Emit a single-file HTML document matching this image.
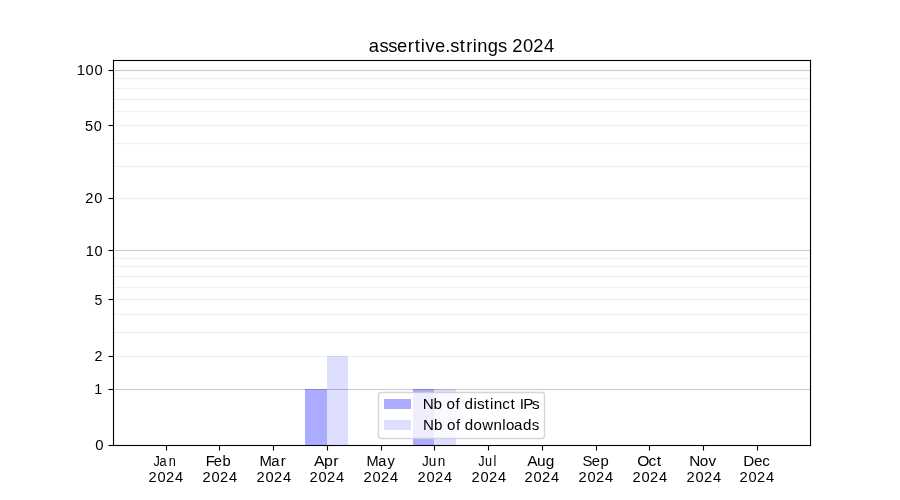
<!DOCTYPE html>
<html><head><meta charset="utf-8"><title>assertive.strings 2024</title>
<style>
html,body{margin:0;padding:0;background:#fff;width:900px;height:500px;overflow:hidden}
svg{display:block;will-change:transform}
text{font-family:"Liberation Sans",sans-serif;fill:#000}
rect{shape-rendering:crispEdges}
</style></head><body>
<svg width="900" height="500" viewBox="0 0 900 500">
<rect x="0" y="0" width="900" height="500" fill="#fff"/>
<rect x="305" y="389" width="22" height="56" fill="#ababff"/>
<rect x="327" y="356" width="21" height="89" fill="#dedeff"/>
<rect x="413" y="389" width="21" height="56" fill="#ababff"/>
<rect x="434" y="389" width="22" height="56" fill="#dedeff"/>
<rect x="114" y="70" width="696" height="1" fill="#000" fill-opacity="0.2"/>
<rect x="114" y="69" width="696" height="1" fill="#000" fill-opacity="0.012"/>
<rect x="114" y="71" width="696" height="1" fill="#000" fill-opacity="0.012"/>
<rect x="114" y="250" width="696" height="1" fill="#000" fill-opacity="0.2"/>
<rect x="114" y="249" width="696" height="1" fill="#000" fill-opacity="0.012"/>
<rect x="114" y="251" width="696" height="1" fill="#000" fill-opacity="0.012"/>
<rect x="114" y="389" width="696" height="1" fill="#000" fill-opacity="0.2"/>
<rect x="114" y="388" width="696" height="1" fill="#000" fill-opacity="0.012"/>
<rect x="114" y="390" width="696" height="1" fill="#000" fill-opacity="0.012"/>
<rect x="114" y="78" width="696" height="1" fill="#000" fill-opacity="0.059"/>
<rect x="114" y="77" width="696" height="1" fill="#000" fill-opacity="0.004"/>
<rect x="114" y="79" width="696" height="1" fill="#000" fill-opacity="0.004"/>
<rect x="114" y="88" width="696" height="1" fill="#000" fill-opacity="0.059"/>
<rect x="114" y="87" width="696" height="1" fill="#000" fill-opacity="0.004"/>
<rect x="114" y="89" width="696" height="1" fill="#000" fill-opacity="0.004"/>
<rect x="114" y="99" width="696" height="1" fill="#000" fill-opacity="0.059"/>
<rect x="114" y="98" width="696" height="1" fill="#000" fill-opacity="0.004"/>
<rect x="114" y="100" width="696" height="1" fill="#000" fill-opacity="0.004"/>
<rect x="114" y="111" width="696" height="1" fill="#000" fill-opacity="0.059"/>
<rect x="114" y="110" width="696" height="1" fill="#000" fill-opacity="0.004"/>
<rect x="114" y="112" width="696" height="1" fill="#000" fill-opacity="0.004"/>
<rect x="114" y="125" width="696" height="1" fill="#000" fill-opacity="0.059"/>
<rect x="114" y="124" width="696" height="1" fill="#000" fill-opacity="0.004"/>
<rect x="114" y="126" width="696" height="1" fill="#000" fill-opacity="0.004"/>
<rect x="114" y="143" width="696" height="1" fill="#000" fill-opacity="0.059"/>
<rect x="114" y="142" width="696" height="1" fill="#000" fill-opacity="0.004"/>
<rect x="114" y="144" width="696" height="1" fill="#000" fill-opacity="0.004"/>
<rect x="114" y="166" width="696" height="1" fill="#000" fill-opacity="0.059"/>
<rect x="114" y="165" width="696" height="1" fill="#000" fill-opacity="0.004"/>
<rect x="114" y="167" width="696" height="1" fill="#000" fill-opacity="0.004"/>
<rect x="114" y="198" width="696" height="1" fill="#000" fill-opacity="0.059"/>
<rect x="114" y="197" width="696" height="1" fill="#000" fill-opacity="0.004"/>
<rect x="114" y="199" width="696" height="1" fill="#000" fill-opacity="0.004"/>
<rect x="114" y="258" width="696" height="1" fill="#000" fill-opacity="0.059"/>
<rect x="114" y="257" width="696" height="1" fill="#000" fill-opacity="0.004"/>
<rect x="114" y="259" width="696" height="1" fill="#000" fill-opacity="0.004"/>
<rect x="114" y="266" width="696" height="1" fill="#000" fill-opacity="0.059"/>
<rect x="114" y="265" width="696" height="1" fill="#000" fill-opacity="0.004"/>
<rect x="114" y="267" width="696" height="1" fill="#000" fill-opacity="0.004"/>
<rect x="114" y="276" width="696" height="1" fill="#000" fill-opacity="0.059"/>
<rect x="114" y="275" width="696" height="1" fill="#000" fill-opacity="0.004"/>
<rect x="114" y="277" width="696" height="1" fill="#000" fill-opacity="0.004"/>
<rect x="114" y="287" width="696" height="1" fill="#000" fill-opacity="0.059"/>
<rect x="114" y="286" width="696" height="1" fill="#000" fill-opacity="0.004"/>
<rect x="114" y="288" width="696" height="1" fill="#000" fill-opacity="0.004"/>
<rect x="114" y="299" width="696" height="1" fill="#000" fill-opacity="0.059"/>
<rect x="114" y="298" width="696" height="1" fill="#000" fill-opacity="0.004"/>
<rect x="114" y="300" width="696" height="1" fill="#000" fill-opacity="0.004"/>
<rect x="114" y="314" width="696" height="1" fill="#000" fill-opacity="0.059"/>
<rect x="114" y="313" width="696" height="1" fill="#000" fill-opacity="0.004"/>
<rect x="114" y="315" width="696" height="1" fill="#000" fill-opacity="0.004"/>
<rect x="114" y="332" width="696" height="1" fill="#000" fill-opacity="0.059"/>
<rect x="114" y="331" width="696" height="1" fill="#000" fill-opacity="0.004"/>
<rect x="114" y="333" width="696" height="1" fill="#000" fill-opacity="0.004"/>
<rect x="114" y="356" width="696" height="1" fill="#000" fill-opacity="0.059"/>
<rect x="114" y="355" width="696" height="1" fill="#000" fill-opacity="0.004"/>
<rect x="114" y="357" width="696" height="1" fill="#000" fill-opacity="0.004"/>
<rect x="113" y="60" width="1" height="386" fill="#000"/>
<rect x="112" y="60" width="1" height="386" fill="#000" fill-opacity="0.055"/>
<rect x="114" y="60" width="1" height="386" fill="#000" fill-opacity="0.055"/>
<rect x="113" y="59" width="1" height="1" fill="#000" fill-opacity="0.055"/>
<rect x="113" y="446" width="1" height="1" fill="#000" fill-opacity="0.055"/>
<rect x="112" y="59" width="1" height="1" fill="#000" fill-opacity="0.008"/>
<rect x="112" y="446" width="1" height="1" fill="#000" fill-opacity="0.008"/>
<rect x="114" y="59" width="1" height="1" fill="#000" fill-opacity="0.008"/>
<rect x="114" y="446" width="1" height="1" fill="#000" fill-opacity="0.008"/>
<rect x="810" y="60" width="1" height="386" fill="#000"/>
<rect x="809" y="60" width="1" height="386" fill="#000" fill-opacity="0.055"/>
<rect x="811" y="60" width="1" height="386" fill="#000" fill-opacity="0.055"/>
<rect x="810" y="59" width="1" height="1" fill="#000" fill-opacity="0.055"/>
<rect x="810" y="446" width="1" height="1" fill="#000" fill-opacity="0.055"/>
<rect x="809" y="59" width="1" height="1" fill="#000" fill-opacity="0.008"/>
<rect x="809" y="446" width="1" height="1" fill="#000" fill-opacity="0.008"/>
<rect x="811" y="59" width="1" height="1" fill="#000" fill-opacity="0.008"/>
<rect x="811" y="446" width="1" height="1" fill="#000" fill-opacity="0.008"/>
<rect x="113" y="445" width="698" height="1" fill="#000"/>
<rect x="113" y="444" width="698" height="1" fill="#000" fill-opacity="0.055"/>
<rect x="113" y="446" width="698" height="1" fill="#000" fill-opacity="0.055"/>
<rect x="112" y="445" width="1" height="1" fill="#000" fill-opacity="0.055"/>
<rect x="811" y="445" width="1" height="1" fill="#000" fill-opacity="0.055"/>
<rect x="112" y="444" width="1" height="1" fill="#000" fill-opacity="0.008"/>
<rect x="811" y="444" width="1" height="1" fill="#000" fill-opacity="0.008"/>
<rect x="112" y="446" width="1" height="1" fill="#000" fill-opacity="0.008"/>
<rect x="811" y="446" width="1" height="1" fill="#000" fill-opacity="0.008"/>
<rect x="113" y="60" width="698" height="1" fill="#000"/>
<rect x="113" y="59" width="698" height="1" fill="#000" fill-opacity="0.055"/>
<rect x="113" y="61" width="698" height="1" fill="#000" fill-opacity="0.055"/>
<rect x="112" y="60" width="1" height="1" fill="#000" fill-opacity="0.055"/>
<rect x="811" y="60" width="1" height="1" fill="#000" fill-opacity="0.055"/>
<rect x="112" y="59" width="1" height="1" fill="#000" fill-opacity="0.008"/>
<rect x="811" y="59" width="1" height="1" fill="#000" fill-opacity="0.008"/>
<rect x="112" y="61" width="1" height="1" fill="#000" fill-opacity="0.008"/>
<rect x="811" y="61" width="1" height="1" fill="#000" fill-opacity="0.008"/>
<rect x="109" y="445" width="4" height="1" fill="#000"/>
<rect x="108" y="445" width="1" height="1" fill="#000" fill-opacity="0.5"/>
<rect x="109" y="444" width="4" height="1" fill="#000" fill-opacity="0.055"/>
<rect x="109" y="446" width="4" height="1" fill="#000" fill-opacity="0.055"/>
<rect x="108" y="444" width="1" height="1" fill="#000" fill-opacity="0.027"/>
<rect x="108" y="446" width="1" height="1" fill="#000" fill-opacity="0.027"/>
<rect x="109" y="389" width="4" height="1" fill="#000"/>
<rect x="108" y="389" width="1" height="1" fill="#000" fill-opacity="0.5"/>
<rect x="109" y="388" width="4" height="1" fill="#000" fill-opacity="0.055"/>
<rect x="109" y="390" width="4" height="1" fill="#000" fill-opacity="0.055"/>
<rect x="108" y="388" width="1" height="1" fill="#000" fill-opacity="0.027"/>
<rect x="108" y="390" width="1" height="1" fill="#000" fill-opacity="0.027"/>
<rect x="109" y="356" width="4" height="1" fill="#000"/>
<rect x="108" y="356" width="1" height="1" fill="#000" fill-opacity="0.5"/>
<rect x="109" y="355" width="4" height="1" fill="#000" fill-opacity="0.055"/>
<rect x="109" y="357" width="4" height="1" fill="#000" fill-opacity="0.055"/>
<rect x="108" y="355" width="1" height="1" fill="#000" fill-opacity="0.027"/>
<rect x="108" y="357" width="1" height="1" fill="#000" fill-opacity="0.027"/>
<rect x="109" y="299" width="4" height="1" fill="#000"/>
<rect x="108" y="299" width="1" height="1" fill="#000" fill-opacity="0.5"/>
<rect x="109" y="298" width="4" height="1" fill="#000" fill-opacity="0.055"/>
<rect x="109" y="300" width="4" height="1" fill="#000" fill-opacity="0.055"/>
<rect x="108" y="298" width="1" height="1" fill="#000" fill-opacity="0.027"/>
<rect x="108" y="300" width="1" height="1" fill="#000" fill-opacity="0.027"/>
<rect x="109" y="250" width="4" height="1" fill="#000"/>
<rect x="108" y="250" width="1" height="1" fill="#000" fill-opacity="0.5"/>
<rect x="109" y="249" width="4" height="1" fill="#000" fill-opacity="0.055"/>
<rect x="109" y="251" width="4" height="1" fill="#000" fill-opacity="0.055"/>
<rect x="108" y="249" width="1" height="1" fill="#000" fill-opacity="0.027"/>
<rect x="108" y="251" width="1" height="1" fill="#000" fill-opacity="0.027"/>
<rect x="109" y="198" width="4" height="1" fill="#000"/>
<rect x="108" y="198" width="1" height="1" fill="#000" fill-opacity="0.5"/>
<rect x="109" y="197" width="4" height="1" fill="#000" fill-opacity="0.055"/>
<rect x="109" y="199" width="4" height="1" fill="#000" fill-opacity="0.055"/>
<rect x="108" y="197" width="1" height="1" fill="#000" fill-opacity="0.027"/>
<rect x="108" y="199" width="1" height="1" fill="#000" fill-opacity="0.027"/>
<rect x="109" y="125" width="4" height="1" fill="#000"/>
<rect x="108" y="125" width="1" height="1" fill="#000" fill-opacity="0.5"/>
<rect x="109" y="124" width="4" height="1" fill="#000" fill-opacity="0.055"/>
<rect x="109" y="126" width="4" height="1" fill="#000" fill-opacity="0.055"/>
<rect x="108" y="124" width="1" height="1" fill="#000" fill-opacity="0.027"/>
<rect x="108" y="126" width="1" height="1" fill="#000" fill-opacity="0.027"/>
<rect x="109" y="70" width="4" height="1" fill="#000"/>
<rect x="108" y="70" width="1" height="1" fill="#000" fill-opacity="0.5"/>
<rect x="109" y="69" width="4" height="1" fill="#000" fill-opacity="0.055"/>
<rect x="109" y="71" width="4" height="1" fill="#000" fill-opacity="0.055"/>
<rect x="108" y="69" width="1" height="1" fill="#000" fill-opacity="0.027"/>
<rect x="108" y="71" width="1" height="1" fill="#000" fill-opacity="0.027"/>
<rect x="166" y="446" width="1" height="4" fill="#000"/>
<rect x="166" y="450" width="1" height="1" fill="#000" fill-opacity="0.5"/>
<rect x="165" y="446" width="1" height="4" fill="#000" fill-opacity="0.055"/>
<rect x="167" y="446" width="1" height="4" fill="#000" fill-opacity="0.055"/>
<rect x="165" y="450" width="1" height="1" fill="#000" fill-opacity="0.027"/>
<rect x="167" y="450" width="1" height="1" fill="#000" fill-opacity="0.027"/>
<rect x="219" y="446" width="1" height="4" fill="#000"/>
<rect x="219" y="450" width="1" height="1" fill="#000" fill-opacity="0.5"/>
<rect x="218" y="446" width="1" height="4" fill="#000" fill-opacity="0.055"/>
<rect x="220" y="446" width="1" height="4" fill="#000" fill-opacity="0.055"/>
<rect x="218" y="450" width="1" height="1" fill="#000" fill-opacity="0.027"/>
<rect x="220" y="450" width="1" height="1" fill="#000" fill-opacity="0.027"/>
<rect x="273" y="446" width="1" height="4" fill="#000"/>
<rect x="273" y="450" width="1" height="1" fill="#000" fill-opacity="0.5"/>
<rect x="272" y="446" width="1" height="4" fill="#000" fill-opacity="0.055"/>
<rect x="274" y="446" width="1" height="4" fill="#000" fill-opacity="0.055"/>
<rect x="272" y="450" width="1" height="1" fill="#000" fill-opacity="0.027"/>
<rect x="274" y="450" width="1" height="1" fill="#000" fill-opacity="0.027"/>
<rect x="327" y="446" width="1" height="4" fill="#000"/>
<rect x="327" y="450" width="1" height="1" fill="#000" fill-opacity="0.5"/>
<rect x="326" y="446" width="1" height="4" fill="#000" fill-opacity="0.055"/>
<rect x="328" y="446" width="1" height="4" fill="#000" fill-opacity="0.055"/>
<rect x="326" y="450" width="1" height="1" fill="#000" fill-opacity="0.027"/>
<rect x="328" y="450" width="1" height="1" fill="#000" fill-opacity="0.027"/>
<rect x="381" y="446" width="1" height="4" fill="#000"/>
<rect x="381" y="450" width="1" height="1" fill="#000" fill-opacity="0.5"/>
<rect x="380" y="446" width="1" height="4" fill="#000" fill-opacity="0.055"/>
<rect x="382" y="446" width="1" height="4" fill="#000" fill-opacity="0.055"/>
<rect x="380" y="450" width="1" height="1" fill="#000" fill-opacity="0.027"/>
<rect x="382" y="450" width="1" height="1" fill="#000" fill-opacity="0.027"/>
<rect x="434" y="446" width="1" height="4" fill="#000"/>
<rect x="434" y="450" width="1" height="1" fill="#000" fill-opacity="0.5"/>
<rect x="433" y="446" width="1" height="4" fill="#000" fill-opacity="0.055"/>
<rect x="435" y="446" width="1" height="4" fill="#000" fill-opacity="0.055"/>
<rect x="433" y="450" width="1" height="1" fill="#000" fill-opacity="0.027"/>
<rect x="435" y="450" width="1" height="1" fill="#000" fill-opacity="0.027"/>
<rect x="488" y="446" width="1" height="4" fill="#000"/>
<rect x="488" y="450" width="1" height="1" fill="#000" fill-opacity="0.5"/>
<rect x="487" y="446" width="1" height="4" fill="#000" fill-opacity="0.055"/>
<rect x="489" y="446" width="1" height="4" fill="#000" fill-opacity="0.055"/>
<rect x="487" y="450" width="1" height="1" fill="#000" fill-opacity="0.027"/>
<rect x="489" y="450" width="1" height="1" fill="#000" fill-opacity="0.027"/>
<rect x="542" y="446" width="1" height="4" fill="#000"/>
<rect x="542" y="450" width="1" height="1" fill="#000" fill-opacity="0.5"/>
<rect x="541" y="446" width="1" height="4" fill="#000" fill-opacity="0.055"/>
<rect x="543" y="446" width="1" height="4" fill="#000" fill-opacity="0.055"/>
<rect x="541" y="450" width="1" height="1" fill="#000" fill-opacity="0.027"/>
<rect x="543" y="450" width="1" height="1" fill="#000" fill-opacity="0.027"/>
<rect x="596" y="446" width="1" height="4" fill="#000"/>
<rect x="596" y="450" width="1" height="1" fill="#000" fill-opacity="0.5"/>
<rect x="595" y="446" width="1" height="4" fill="#000" fill-opacity="0.055"/>
<rect x="597" y="446" width="1" height="4" fill="#000" fill-opacity="0.055"/>
<rect x="595" y="450" width="1" height="1" fill="#000" fill-opacity="0.027"/>
<rect x="597" y="450" width="1" height="1" fill="#000" fill-opacity="0.027"/>
<rect x="649" y="446" width="1" height="4" fill="#000"/>
<rect x="649" y="450" width="1" height="1" fill="#000" fill-opacity="0.5"/>
<rect x="648" y="446" width="1" height="4" fill="#000" fill-opacity="0.055"/>
<rect x="650" y="446" width="1" height="4" fill="#000" fill-opacity="0.055"/>
<rect x="648" y="450" width="1" height="1" fill="#000" fill-opacity="0.027"/>
<rect x="650" y="450" width="1" height="1" fill="#000" fill-opacity="0.027"/>
<rect x="703" y="446" width="1" height="4" fill="#000"/>
<rect x="703" y="450" width="1" height="1" fill="#000" fill-opacity="0.5"/>
<rect x="702" y="446" width="1" height="4" fill="#000" fill-opacity="0.055"/>
<rect x="704" y="446" width="1" height="4" fill="#000" fill-opacity="0.055"/>
<rect x="702" y="450" width="1" height="1" fill="#000" fill-opacity="0.027"/>
<rect x="704" y="450" width="1" height="1" fill="#000" fill-opacity="0.027"/>
<rect x="757" y="446" width="1" height="4" fill="#000"/>
<rect x="757" y="450" width="1" height="1" fill="#000" fill-opacity="0.5"/>
<rect x="756" y="446" width="1" height="4" fill="#000" fill-opacity="0.055"/>
<rect x="758" y="446" width="1" height="4" fill="#000" fill-opacity="0.055"/>
<rect x="756" y="450" width="1" height="1" fill="#000" fill-opacity="0.027"/>
<rect x="758" y="450" width="1" height="1" fill="#000" fill-opacity="0.027"/>
<rect x="378.5" y="392.5" width="166" height="46" rx="2.78" ry="2.78" fill="#fff" fill-opacity="0.8" stroke="#ccc" stroke-opacity="0.8" stroke-width="1.4" style="shape-rendering:geometricPrecision"/>
<rect x="384" y="399" width="27" height="10" fill="#ababff"/>
<rect x="384" y="420" width="27" height="10" fill="#dedeff"/>
<text transform="translate(370.43,52) scale(1.0010,1)" font-size="18.33" x="-1.64 9.05 17.71 26.54 37.37 44.20 50.33 55.00 64.54 74.79 79.86 89.31 95.82 102.26 106.80 117.21 127.53 130.53 141.57 152.35 162.70 173.49" y="0">assertive.strings 2024</text>
<text transform="translate(77.98,75) scale(0.9817,1)" font-size="15.00" x="-1.31 7.76 16.76" y="0">100</text>
<text transform="translate(85.66,131) scale(0.9677,1)" font-size="15.00" x="-0.77 8.41" y="0">50</text>
<text transform="translate(86.14,203) scale(0.9780,1)" font-size="15.00" x="-0.88 8.33" y="0">20</text>
<text transform="translate(86.89,256) scale(0.9744,1)" font-size="15.00" x="-1.28 7.85" y="0">10</text>
<text transform="translate(95.22,305) scale(0.9396,1)" font-size="15.00" x="-0.67" y="0">5</text>
<text transform="translate(95.29,361) scale(0.9596,1)" font-size="15.00" x="-0.82" y="0">2</text>
<text transform="translate(95.49,394) scale(0.9509,1)" font-size="15.00" x="-1.21" y="0">1</text>
<text transform="translate(96.00,450) scale(0.9956,1)" font-size="15.00" x="-0.66" y="0">0</text>
<text transform="translate(154.53,466) scale(0.8831,1)" font-size="14.44" x="-1.23 5.70 16.08" y="0">Jan</text>
<text transform="translate(149.24,482) scale(0.9968,1)" font-size="14.72" x="-0.87 8.17 16.84 25.88" y="0">2024</text>
<text transform="translate(207.77,466) scale(1.0245,1)" font-size="14.44" x="-1.88 5.91 14.43" y="0">Feb</text>
<text transform="translate(203.24,482) scale(0.9968,1)" font-size="14.72" x="-0.87 8.17 16.84 25.88" y="0">2024</text>
<text transform="translate(261.09,466) scale(1.0310,1)" font-size="14.44" x="-1.52 9.89 19.15" y="0">Mar</text>
<text transform="translate(257.24,482) scale(0.9968,1)" font-size="14.72" x="-0.87 8.17 16.84 25.88" y="0">2024</text>
<text transform="translate(314.55,466) scale(1.1050,1)" font-size="14.44" x="-0.62 8.53 16.85" y="0">Apr</text>
<text transform="translate(310.24,482) scale(0.9968,1)" font-size="14.72" x="-0.87 8.17 16.84 25.88" y="0">2024</text>
<text transform="translate(368.04,466) scale(1.0089,1)" font-size="14.44" x="-1.42 10.20 19.40" y="0">May</text>
<text transform="translate(364.24,482) scale(0.9968,1)" font-size="14.72" x="-0.87 8.17 16.84 25.88" y="0">2024</text>
<text transform="translate(423.39,466) scale(0.9422,1)" font-size="14.44" x="-1.36 5.73 15.13" y="0">Jun</text>
<text transform="translate(418.24,482) scale(0.9968,1)" font-size="14.72" x="-0.87 8.17 16.84 25.88" y="0">2024</text>
<text transform="translate(479.42,466) scale(0.8796,1)" font-size="14.44" x="-1.23 6.42 16.06" y="0">Jul</text>
<text transform="translate(472.24,482) scale(0.9968,1)" font-size="14.72" x="-0.87 8.17 16.84 25.88" y="0">2024</text>
<text transform="translate(527.63,466) scale(1.0704,1)" font-size="14.44" x="-0.48 8.83 17.01" y="0">Aug</text>
<text transform="translate(525.24,482) scale(0.9968,1)" font-size="14.72" x="-0.87 8.17 16.84 25.88" y="0">2024</text>
<text transform="translate(583.76,466) scale(1.0292,1)" font-size="14.44" x="-1.35 7.83 16.31" y="0">Sep</text>
<text transform="translate(579.24,482) scale(0.9968,1)" font-size="14.72" x="-0.87 8.17 16.84 25.88" y="0">2024</text>
<text transform="translate(638.56,466) scale(1.0785,1)" font-size="14.44" x="-1.27 9.17 16.96" y="0">Oct</text>
<text transform="translate(633.24,482) scale(0.9968,1)" font-size="14.72" x="-0.87 8.17 16.84 25.88" y="0">2024</text>
<text transform="translate(690.84,466) scale(1.0607,1)" font-size="14.44" x="-1.61 8.49 16.77" y="0">Nov</text>
<text transform="translate(687.24,482) scale(0.9968,1)" font-size="14.72" x="-0.87 8.17 16.84 25.88" y="0">2024</text>
<text transform="translate(744.68,466) scale(1.0599,1)" font-size="14.44" x="-1.45 8.84 16.68" y="0">Dec</text>
<text transform="translate(740.24,482) scale(0.9968,1)" font-size="14.72" x="-0.87 8.17 16.84 25.88" y="0">2024</text>
<text transform="translate(424.38,409) scale(1.1001,1)" font-size="13.89" x="-1.54 8.41 11.41 20.21 28.38 31.38 36.45 44.60 47.79 54.97 59.62 63.07 70.74 78.34 81.34 86.72 89.88 97.79" y="0">Nb of distinct IPs</text>
<text transform="translate(424.67,430) scale(1.0861,1)" font-size="13.89" x="-1.49 8.57 11.57 20.52 28.77 31.77 36.97 45.01 52.98 63.43 71.55 74.91 82.24 90.63 98.57" y="0">Nb of downloads</text>
</svg>
</body></html>
